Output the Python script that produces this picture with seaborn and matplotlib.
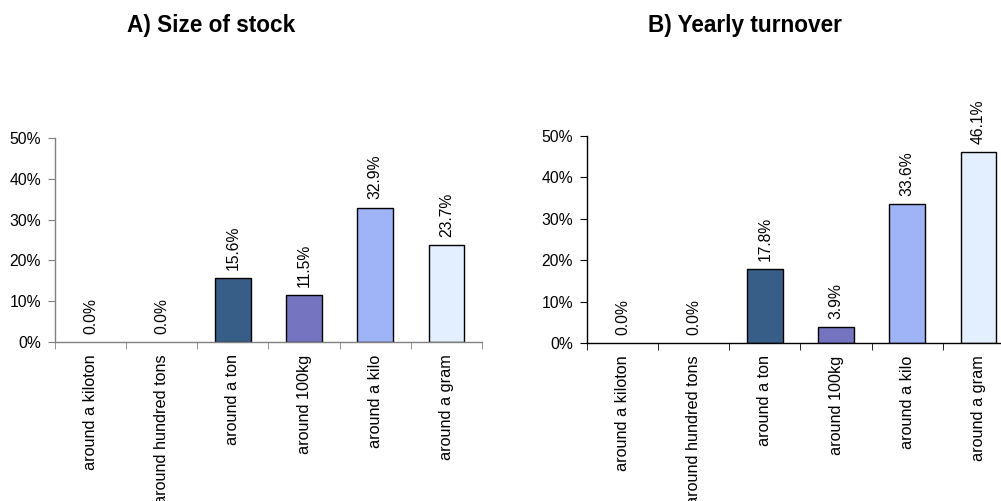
import matplotlib
matplotlib.use("Agg")
import matplotlib.pyplot as plt
import pandas as pd
import seaborn as sns

categories = ["around a kiloton", "around hundred tons", "around a ton",
              "around 100kg", "around a kilo", "around a gram"]
stock_share = [0.0, 0.0, 15.6, 11.5, 32.9, 23.7]
turnover_share = [0.0, 0.0, 17.8, 3.9, 33.6, 46.1]
bar_colors = ["#ffffff", "#ffffff", "#375e86", "#7474c0", "#9fb3f7", "#e3efff"]
y_ticks = [0, 10, 20, 30, 40, 50]

sns.set_style("white")
plt.rcParams["font.family"] = ["Liberation Sans", "DejaVu Sans"]
plt.rcParams["text.color"] = "black"

fig = plt.figure(figsize=(10.01, 5.01), dpi=100)
ax_a = fig.add_axes([0.0549, 0.3174, 0.4266, 0.4072])
ax_b = fig.add_axes([0.5864, 0.3154, 0.4266, 0.4132])


def draw_panel(ax, values, axis_color):
    table = pd.DataFrame({"category": categories, "share": values})
    sns.barplot(data=table, x="category", y="share", hue="category",
                palette=bar_colors, legend=False, width=0.5, saturation=1,
                edgecolor="black", linewidth=1.0, ax=ax)
    # zero bars show nothing in the original
    for patch in ax.patches:
        if patch.get_height() == 0:
            patch.set_linewidth(0)
    for container in ax.containers:
        ax.bar_label(container, labels=[f"{v:.1f}%" for v in container.datavalues],
                     rotation=90, padding=6, fontsize=11.3, color="black")
    ax.set_xlim(-0.5, len(categories) - 0.5)
    ax.set_ylim(0, 50)
    ax.set_yticks(y_ticks)
    ax.set_yticklabels([f"{t}%" for t in y_ticks], fontsize=11.3)
    ax.set_xticks(range(len(categories)))
    ax.set_xticklabels(categories, rotation=90, fontsize=11.7, va="top")
    ax.set_xticks([i - 0.5 for i in range(len(categories) + 1)], minor=True)
    ax.tick_params(axis="x", which="major", bottom=True, length=0, pad=9,
                   labelcolor="black")
    ax.tick_params(axis="x", which="minor", bottom=True, length=5,
                   color=axis_color, direction="out")
    ax.tick_params(axis="y", left=True, length=5, color=axis_color,
                   direction="out", pad=5, labelcolor="black")
    ax.set_xlabel("")
    ax.set_ylabel("")
    for side in ["top", "right"]:
        ax.spines[side].set_visible(False)
    for side in ["left", "bottom"]:
        ax.spines[side].set_color(axis_color)
        ax.spines[side].set_linewidth(1.0)


draw_panel(ax_a, stock_share, "#808080")
draw_panel(ax_b, turnover_share, "black")

fig.text(0.2113, 0.95, "A) Size of stock", ha="center", va="center",
         fontsize=16.3, fontweight="bold")
fig.text(0.7443, 0.95, "B) Yearly turnover", ha="center", va="center",
         fontsize=16.3, fontweight="bold")

fig.savefig("out.png", dpi=100)
